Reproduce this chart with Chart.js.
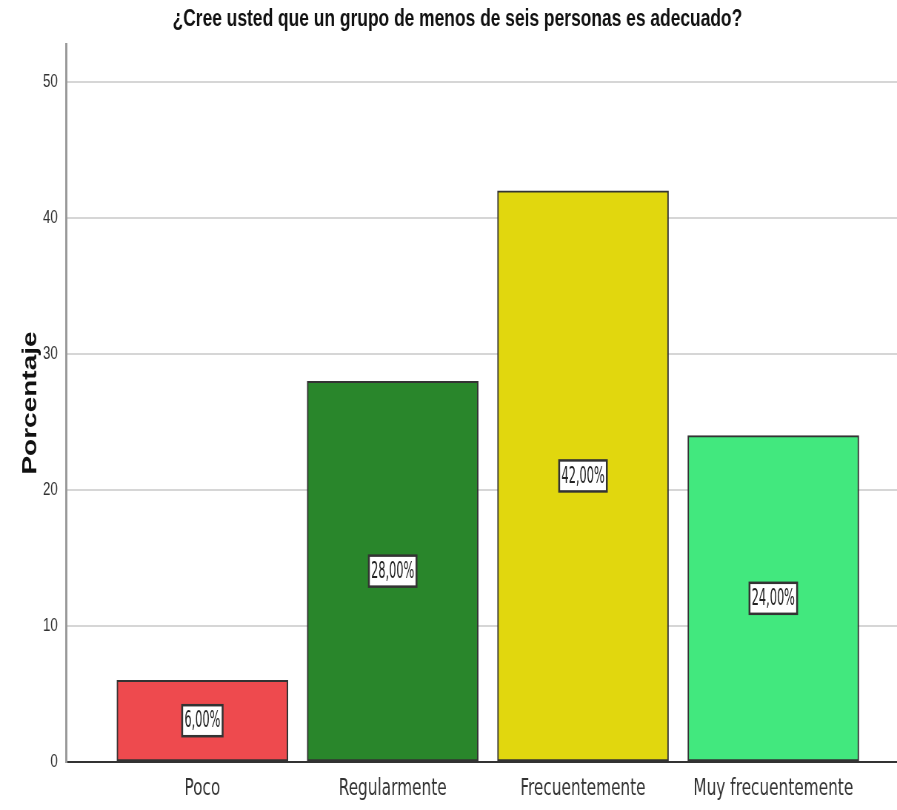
<!DOCTYPE html>
<html><head><meta charset="utf-8">
<script src="https://cdn.jsdelivr.net/npm/chart.js@4/dist/chart.umd.min.js"></script>
<style>html,body{margin:0;padding:0;background:#fff;overflow:hidden}
#c{display:block;width:897px;height:810px}</style>
</head><body>
<canvas id="c" width="1211" height="810" style="width:897px;height:810px"></canvas>
<script>
const titleText = '¿Cree usted que un grupo de menos de seis personas es adecuado?';
const yAxisTitle = 'Porcentaje';
const categories = ['Poco', 'Regularmente', 'Frecuentemente', 'Muy frecuentemente'];
const percentages = [6, 28, 42, 24];
const barColors = ['#ee4a4e', '#29862b', '#e1d70e', '#42e87e'];
const yTicks = [0, 10, 20, 30, 40, 50];

const yMax = 52.8;
const xMin = -0.717, xMax = 3.65;
const NARROW = "'Liberation Sans Narrow', 'DejaVu Sans Condensed', 'Arial Narrow', sans-serif";
const SANS = "'Liberation Sans', Arial, sans-serif";

const valueLabels = {
  id: 'valueLabels',
  afterDatasetsDraw(chart) {
    const ctx = chart.ctx;
    const meta = chart.getDatasetMeta(0);
    meta.data.forEach((bar, i) => {
      const txt = percentages[i].toFixed(2).replace('.', ',') + '%';
      const cx = bar.x, cy = (bar.y + bar.base) / 2;
      ctx.save();
      ctx.font = '17px ' + NARROW;
      ctx.textAlign = 'center';
      ctx.textBaseline = 'middle';
      const w = ctx.measureText(txt).width + 6;
      const h = 31;
      ctx.fillStyle = '#fff';
      ctx.fillRect(cx - w / 2, cy - h / 2, w, h);
      ctx.lineWidth = 2.5;
      ctx.strokeStyle = '#333';
      ctx.strokeRect(cx - w / 2, cy - h / 2, w, h);
      ctx.translate(cx, cy + 1);
      ctx.scale(1, 1.3);
      ctx.fillStyle = '#222';
      ctx.fillText(txt, 0, 0);
      ctx.restore();
    });
  }
};

new Chart(document.getElementById('c'), {
  type: 'bar',
  data: {
    datasets: [{
      data: percentages.map((v, i) => ({ x: i, y: v })),
      backgroundColor: barColors,
      borderColor: '#333',
      borderWidth: 2,
      borderSkipped: false,
      barThickness: 231
    }]
  },
  options: {
    responsive: false,
    animation: false,
    devicePixelRatio: 1,
    layout: { padding: { left: 24, right: 0, top: 0, bottom: 0 } },
    plugins: {
      legend: { display: false },
      tooltip: { enabled: false },
      title: {
        display: true, text: titleText, color: '#111',
        font: { family: SANS, size: 23.5, weight: 'bold', lineHeight: 1.1 },
        padding: { top: 7, bottom: 11.15 }
      }
    },
    scales: {
      x: {
        type: 'linear', min: xMin, max: xMax, offset: false,
        grid: { display: false, drawTicks: false },
        border: { display: true, color: '#333', width: 2 },
        afterBuildTicks: s => { s.ticks = categories.map((_, i) => ({ value: i })); },
        ticks: {
          autoSkip: false, maxRotation: 0, padding: 13, color: '#333',
          font: { family: NARROW, size: 23 },
          callback: v => categories[v] ?? ''
        },
        afterFit: s => { s.height = 48; }
      },
      y: {
        min: 0, max: yMax,
        afterBuildTicks: s => { s.ticks = yTicks.map(v => ({ value: v })); },
        grid: { color: '#d6d6d6', lineWidth: 2, drawTicks: false },
        border: { color: '#999', width: 3 },
        ticks: { padding: 11, color: '#333', font: { family: SANS, size: 18 } },
        title: {
          display: true, text: yAxisTitle, color: '#111',
          font: { family: SANS, size: 28, weight: 'bold' },
          padding: { top: 0, bottom: 0 }
        },
        afterFit: s => { s.width = 65; }
      }
    }
  },
  plugins: [valueLabels]
});
</script>
</body></html>
